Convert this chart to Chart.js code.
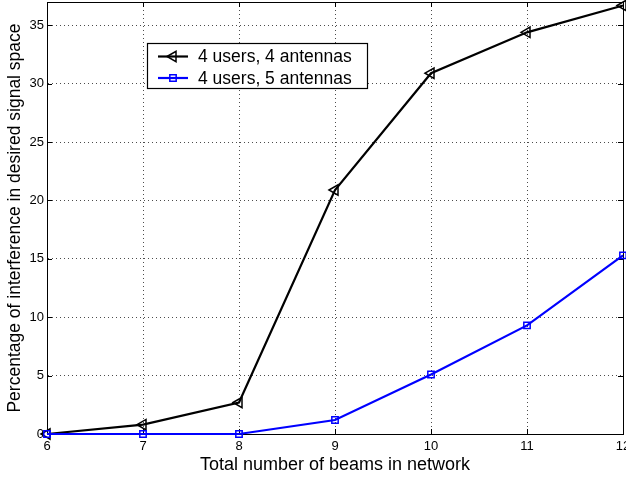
<!DOCTYPE html>
<html>
<head>
<meta charset="utf-8">
<script src="https://cdn.jsdelivr.net/npm/chart.js@4/dist/chart.umd.min.js"></script>
<style>
  html, body { margin: 0; padding: 0; background: #fff; }
  canvas { display: block; }
</style>
</head>
<body>
<canvas id="c" width="626" height="478"></canvas>
<script>
// Interference share vs. total number of beams
const beams = [6, 7, 8, 9, 10, 11, 12];
const fourAntennas = [0, 0.8, 2.7, 20.9, 30.9, 34.4, 36.7];
const fiveAntennas = [0, 0, 0, 1.2, 5.1, 9.3, 15.3];
const seriesLabels = ['4 users, 4 antennas', '4 users, 5 antennas'];
const xTickValues = [6, 7, 8, 9, 10, 11, 12];
const yTickValues = [0, 5, 10, 15, 20, 25, 30, 35];
const xTitle = 'Total number of beams in network';
const yTitle = 'Percentage of interference in desired signal space';

const FONT = "'Liberation Sans', Arial, Helvetica, sans-serif";

function toPoints(xs, ys) {
  return xs.map((x, i) => ({ x: x, y: ys[i] }));
}

// Keep the plot area fixed: no extra room for overhanging tick labels
function noOverhang(scale) {
  scale.paddingLeft = 0;
  scale.paddingRight = 0;
  scale.paddingTop = 0;
  scale.paddingBottom = 0;
}

// Axes box with inward tick marks on all four sides
const framePlugin = {
  id: 'frame',
  beforeDatasetsDraw(chart) {
    const { ctx, chartArea: a, scales } = chart;
    const len = 5;
    ctx.save();
    ctx.strokeStyle = '#000';
    ctx.lineWidth = 1;
    ctx.beginPath();
    scales.x.ticks.forEach(t => {
      const px = Math.round(scales.x.getPixelForValue(t.value)) + 0.5;
      ctx.moveTo(px, a.bottom); ctx.lineTo(px, a.bottom - len);
      ctx.moveTo(px, a.top); ctx.lineTo(px, a.top + len);
    });
    scales.y.ticks.forEach(t => {
      const py = Math.round(scales.y.getPixelForValue(t.value)) + 0.5;
      ctx.moveTo(a.left, py); ctx.lineTo(a.left + len, py);
      ctx.moveTo(a.right, py); ctx.lineTo(a.right - len, py);
    });
    ctx.stroke();
    ctx.strokeRect(Math.round(a.left) + 0.5, Math.round(a.top) + 0.5,
                   Math.round(a.right - a.left), Math.round(a.bottom - a.top));
    ctx.restore();
  }
};

// Boxed legend inside the plot, upper left
const boxLegendPlugin = {
  id: 'boxLegend',
  afterDatasetsDraw(chart) {
    const { ctx } = chart;
    const box = { x: 147.5, y: 43.5, w: 220, h: 45 };
    const rows = [56.5, 78];
    ctx.save();
    ctx.fillStyle = '#fff';
    ctx.fillRect(box.x, box.y, box.w, box.h);
    ctx.strokeStyle = '#000';
    ctx.lineWidth = 1.2;
    ctx.strokeRect(box.x, box.y, box.w, box.h);
    seriesLabels.forEach((label, i) => {
      const ds = chart.data.datasets.find(d => d.label === label);
      const y = rows[i];
      ctx.strokeStyle = ds.borderColor;
      ctx.lineWidth = ds.borderWidth;
      ctx.beginPath();
      ctx.moveTo(158, y); ctx.lineTo(188, y);
      ctx.stroke();
      ctx.lineWidth = ds.pointBorderWidth;
      ctx.beginPath();
      if (ds.pointStyle === 'triangle') {
        const r = ds.pointRadius;
        ctx.moveTo(173 - r, y);
        ctx.lineTo(173 + r / 2, y - r * Math.sqrt(3) / 2);
        ctx.lineTo(173 + r / 2, y + r * Math.sqrt(3) / 2);
        ctx.closePath();
      } else {
        const s = ds.pointRadius * Math.SQRT1_2;
        ctx.rect(173 - s, y - s, 2 * s, 2 * s);
      }
      ctx.stroke();
      ctx.fillStyle = '#000';
      ctx.font = '17.5px ' + FONT;
      ctx.textBaseline = 'middle';
      ctx.textAlign = 'left';
      ctx.fillText(label, 198, y + 1);
    });
    ctx.restore();
  }
};

const gridStyle = {
  color: 'rgba(0,0,0,0.7)',
  lineWidth: 1,
  drawTicks: false
};

new Chart(document.getElementById('c'), {
  type: 'line',
  data: {
    datasets: [
      {
        label: seriesLabels[0],
        data: toPoints(beams, fourAntennas),
        borderColor: '#000',
        backgroundColor: 'rgba(0,0,0,0)',
        borderWidth: 2.2,
        pointStyle: 'triangle',
        rotation: -90,
        pointRadius: 6,
        pointBorderWidth: 1.5,
        pointBorderColor: '#000',
        pointBackgroundColor: 'rgba(0,0,0,0)',
        tension: 0,
        clip: false,
        order: 1
      },
      {
        label: seriesLabels[1],
        data: toPoints(beams, fiveAntennas),
        borderColor: '#0000ff',
        backgroundColor: 'rgba(0,0,0,0)',
        borderWidth: 2.2,
        pointStyle: 'rect',
        pointRadius: 4.5,
        pointBorderWidth: 1.5,
        pointBorderColor: '#0000ff',
        pointBackgroundColor: 'rgba(0,0,0,0)',
        tension: 0,
        clip: false,
        order: 0
      }
    ]
  },
  options: {
    responsive: false,
    animation: false,
    devicePixelRatio: 1,
    layout: {
      autoPadding: false,
      padding: { left: 0, right: 3, top: 2, bottom: 0 }
    },
    plugins: {
      legend: { display: false },
      tooltip: { enabled: false }
    },
    scales: {
      x: {
        type: 'linear',
        min: 6,
        max: 12,
        afterBuildTicks(scale) { scale.ticks = xTickValues.map(v => ({ value: v })); },
        afterFit(scale) { scale.height = 44; noOverhang(scale); },
        grid: gridStyle,
        border: { display: true, color: '#000', width: 1, dash: [1, 3] },
        ticks: {
          color: '#000',
          padding: 5,
          maxRotation: 0,
          font: { family: FONT, size: 13 },
          callback: v => String(v)
        },
        title: {
          display: true,
          text: xTitle,
          color: '#000',
          font: { family: FONT, size: 18 },
          padding: { top: 0, bottom: 2 }
        }
      },
      y: {
        type: 'linear',
        min: 0,
        max: 37,
        afterBuildTicks(scale) { scale.ticks = yTickValues.map(v => ({ value: v })); },
        afterFit(scale) { scale.width = 47; noOverhang(scale); },
        grid: gridStyle,
        border: { display: true, color: '#000', width: 1, dash: [1, 3] },
        ticks: {
          color: '#000',
          padding: 3,
          font: { family: FONT, size: 13 },
          callback: v => String(v)
        },
        title: {
          display: true,
          text: yTitle,
          color: '#000',
          font: { family: FONT, size: 17.5 },
          padding: { top: 4.5, bottom: 0 }
        }
      }
    }
  },
  plugins: [framePlugin, boxLegendPlugin]
});
</script>
</body>
</html>
